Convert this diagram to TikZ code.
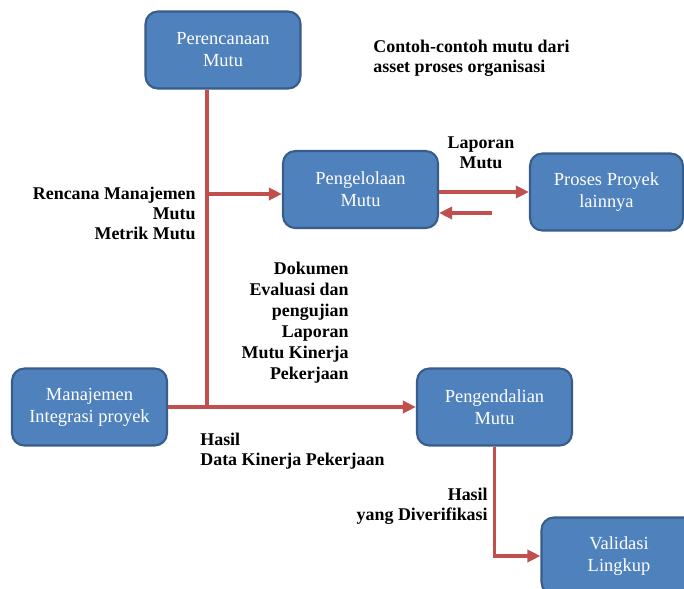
\documentclass[tikz,border=0pt]{standalone}
\usepackage{fontspec}
\setmainfont{Liberation Serif}
\usetikzlibrary{positioning,arrows.meta,calc}

\begin{document}
\begin{tikzpicture}[x=0.02cm,y=-0.02cm,
  proc/.style={rounded corners=7pt,fill=boxblue,draw=boxedge,line width=1.2pt,
    minimum width=3.1cm,minimum height=1.54cm,text=white,align=center,
    font=\fontsize{10.5}{12.5}\selectfont},
  link/.style={draw=linkred,line width=1.9pt},
  arr/.style={-{Triangle[length=2.6mm,width=2.4mm]}},
  lbl/.style={font=\bfseries\fontsize{10.2}{11.3}\selectfont,inner sep=0pt}]
\definecolor{boxblue}{HTML}{4F81BD}\definecolor{boxedge}{HTML}{385D8A}
\definecolor{linkred}{HTML}{C0504D}
\clip (0,0) rectangle (684,589);
\fill[white] (0,0) rectangle (684,589);
% ===== processes =====
\node[proc] (plan) at (223,50) {Perencanaan\\Mutu};
\node[proc] (kelola) at (360.5,189.5) {Pengelolaan\\Mutu};
\node[proc,minimum width=3.06cm] (lain) at (606.5,192) {Proses Proyek\\lainnya};
\node[proc] (integ) at (89.5,407) {Manajemen\\Integrasi proyek};
\node[proc] (kendali) at (494.5,407) {Pengendalian\\Mutu};
\node[proc] (valid) at (619,556) {Validasi\\Lingkup};
% junctions on the vertical trunk
\coordinate (jlow) at (207,408);
\coordinate (jmid) at (207,194);
\coordinate (back) at (492,213);
% ===== connectors =====
\draw[link] (plan.south -| jlow) -- (jlow);
\draw[link,arr] (jmid) -- (jmid -| kelola.west);
\draw[link,arr] (integ.east) -- (kendali.west);
\draw[link,arr] (kelola.east |- lain.west) -- (lain.west);
\draw[link,arr] (back) -- (back -| kelola.east);
\draw[link,arr] (kendali.south) -- (kendali.south |- valid.west) -- (valid.west);
% ===== labels =====
\node[lbl,anchor=north west,align=left] (aset) at (373,40)
  {Contoh-contoh mutu dari\\asset proses organisasi};
\node[lbl,align=center] (lapmutu) at (481,153) {Laporan\\Mutu};
\node[lbl,anchor=north east,align=right] (rencana) at (196,187)
  {Rencana Manajemen\\Mutu\\Metrik Mutu};
\node[lbl,anchor=north east,align=right,font=\bfseries\fontsize{10.2}{11.9}\selectfont] (dokumen) at (349,262)
  {Dokumen\\Evaluasi dan\\pengujian\\Laporan\\Mutu Kinerja\\Pekerjaan};
\node[lbl,anchor=north west,align=left] (hasil) at (200,433)
  {Hasil\\Data Kinerja Pekerjaan};
\node[lbl,anchor=north east,align=right] (verif) at (488,488)
  {Hasil\\yang Diverifikasi};
\end{tikzpicture}
\end{document}
